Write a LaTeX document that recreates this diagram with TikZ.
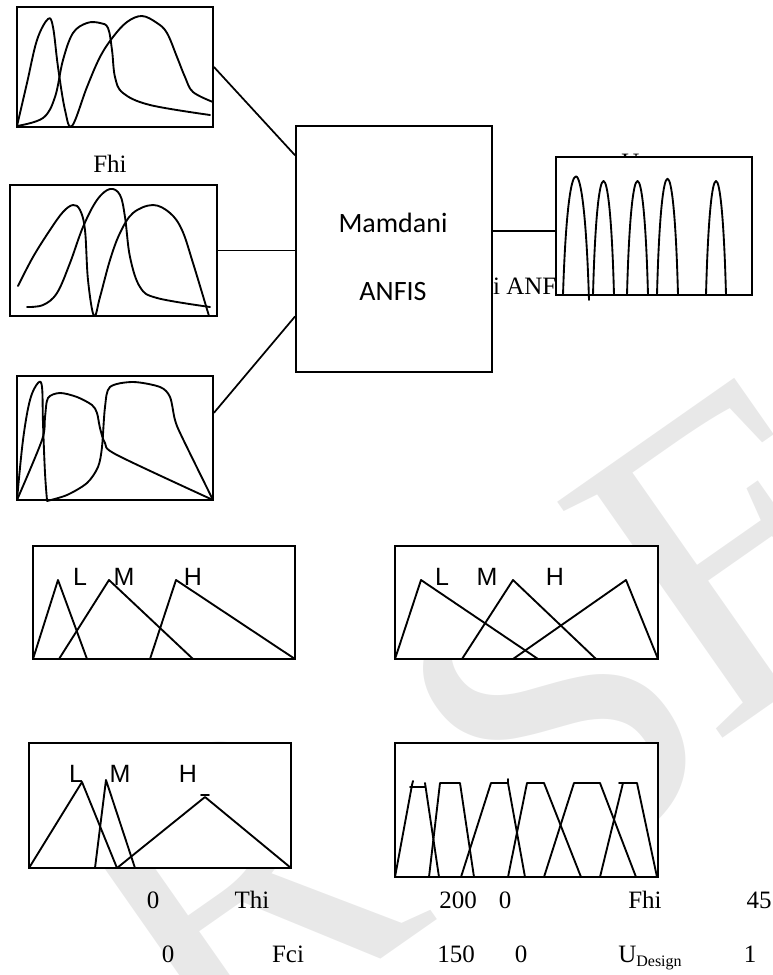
\documentclass[tikz,border=0pt]{standalone}
\usepackage{fontspec}
\setmainfont{Liberation Serif}
\newfontfamily\calibfont{Carlito}
\newfontfamily\arialfont{Liberation Sans}
\usetikzlibrary{calc,fit}

\tikzset{
  frame/.style={draw, line width=1.4pt, fill=white, inner sep=0pt},
  mf/.style={line width=1.4pt, line join=round, line cap=round},
  link/.style={line width=1.3pt},
  tlabel/.style={font=\fontsize{18.75pt}{20pt}\selectfont, inner sep=0pt, anchor=base},
  slabel/.style={font=\arialfont\fontsize{18.75pt}{20pt}\selectfont, inner sep=0pt, anchor=base},
  clabel/.style={font=\calibfont\fontsize{21pt}{24pt}\selectfont, inner sep=0pt, anchor=base},
  wm/.style={text=black!9, font=\fontsize{330pt}{330pt}\selectfont, inner sep=0pt, rotate=35},
}

\begin{document}
\begin{tikzpicture}[x=0.75pt,y=-0.75pt]
\useasboundingbox (0,0) rectangle (773,975);

% faint background lettering
\begin{scope}
  \clip (0,0) rectangle (773,975);
  \node[wm] (wmR) at (235,885) {R};
  \node[wm] (wmS) at (555,715) {S};
  \node[wm] (wmE) at (740,550) {E};
\end{scope}

% captions lying under the boxes
\node[tlabel, anchor=base west] (hidcap) at (404,294) {Mamdani ANFIS};
\node[tlabel, anchor=base west] (hidu) at (621,170) {U};

% frames
\node[frame, fit={(17,7) (213,127)}] (boxA) {};
\node[frame, fit={(10,185) (217,316)}] (boxB) {};
\node[frame, fit={(17,376) (213,500)}] (boxC) {};
\node[frame, fit={(296,126) (492,372)}] (mam) {};
\node[frame, fit={(556,157) (752,295)}] (outb) {};
\node[frame, fit={(33,546) (295,659)}] (thi) {};
\node[frame, fit={(395,546) (658,659)}] (fhi) {};
\node[frame, fit={(29,743) (291,868)}] (fci) {};
\node[frame, fit={(395,743) (658,877)}] (ud) {};

% block text
\node[clabel] (mam1) at (393,232) {Mamdani};
\node[clabel] (mam2) at (393,300) {ANFIS};
\node[tlabel] (fhicap) at (110,172) {Fhi};

% connectors
\coordinate (m1) at ($(mam.north west)!0.122!(mam.south west)$);
\coordinate (m3) at ($(mam.north west)!0.772!(mam.south west)$);
\coordinate (c1) at ($(boxC.north east)!0.3!(boxC.south east)$);
\coordinate (mo) at ($(mam.north east)!0.427!(mam.south east)$);
\draw[link] (boxA.east) -- (m1);
\draw[link] (boxB.east) -- (boxB.east -| mam.west);
\draw[link] (c1) -- (m3);
\draw[link] (mo) -- (mo -| outb.west);

% curves of the first input
\draw[mf] plot[smooth, tension=0.6] coordinates {(17,126) (27,83) (37,40) (48,19) (53,27) (58,67) (65,110) (72,126) (87,87) (100,57) (113,37) (127,22) (142,16) (157,23) (167,33) (177,57) (185,77) (193,92) (213,102)};
\draw[mf] plot[smooth, tension=0.6] coordinates {(17,126) (43,118) (55,97) (63,60) (73,33) (87,23) (100,23) (108,28) (112,50) (115,77) (123,93) (150,105) (210,115)};

% curves of the second input
\draw[mf] plot[smooth, tension=0.6] coordinates {(18,286) (33,257) (50,230) (63,212) (73,205) (80,210) (85,230) (88,280) (94,316) (100,297) (110,260) (120,233) (133,213) (153,205) (170,213) (182,230) (193,263) (209,316)};
\draw[mf] plot[smooth, tension=0.6] coordinates {(27,307) (43,305) (57,293) (70,263) (83,227) (97,200) (110,189) (120,195) (125,217) (130,257) (140,287) (157,298) (210,307)};

% curves of the third input
\draw[mf] plot[smooth, tension=0.6] coordinates {(17,500) (23,440) (30,400) (38,383) (42,387) (43,423) (45,473) (47,500)};
\draw[mf] plot[smooth, tension=0.5] coordinates {(17,500) (42,440) (45,417) (48,398) (60,393) (77,397) (92,405) (97,413) (100,428) (105,443) (117,455) (213,500)};
\draw[mf] plot[smooth, tension=0.5] coordinates {(47,501) (67,495) (87,483) (98,467) (102,447) (105,407) (110,387) (133,382) (160,387) (170,397) (175,420) (182,437) (213,500)};

% output humps
\draw[mf] (563,295) .. controls (568,136) and (584,136) .. (589,300);
\draw[mf] (593,295) .. controls (597,143) and (610,143) .. (614,295);
\draw[mf] (627,295) .. controls (631,143) and (644,143) .. (648,295);
\draw[mf] (657,295) .. controls (661,140) and (674,140) .. (678,295);
\draw[mf] (706,295) .. controls (710,143) and (722,143) .. (726,295);

% Thi sets
\draw[mf] (33,659) -- (58,580) -- (87,659);
\draw[mf] (59,659) -- (109,580) -- (193,659);
\draw[mf] (150,659) -- (176,580) -- (295,659);
\node[slabel] (thiL) at (80,585) {L};
\node[slabel] (thiM) at (124,585) {M};
\node[slabel] (thiH) at (193,585) {H};

% Fhi sets
\draw[mf] (395,659) -- (421,580) -- (538,659);
\draw[mf] (462,659) -- (513,580) -- (596,659);
\draw[mf] (513,659) -- (626,580) -- (658,659);
\node[slabel] (fhiL) at (442,585) {L};
\node[slabel] (fhiM) at (487,585) {M};
\node[slabel] (fhiH) at (555,585) {H};

% Fci sets
\draw[mf] (29,868) -- (82,782) -- (117,868);
\draw[mf] (95,868) -- (106,780) -- (135,868);
\draw[mf] (117,868) -- (205,797) -- (291,868);
\draw[mf] (201,795) -- (209,795);
\node[slabel] (fciL) at (76,782) {L};
\node[slabel] (fciM) at (120,782) {M};
\node[slabel] (fciH) at (188,782) {H};

% U_Design sets
\draw[mf] (395,877) -- (412,785) -- (413,781) (410,787) -- (425,787) (425,783) -- (439,877);
\draw[mf] (429,877) -- (440,783) -- (460,783) -- (474,877);
\draw[mf] (461,877) -- (491,783) -- (508,783) -- (525,877) (508,783) -- (508,779);
\draw[mf] (508,877) -- (527,783) -- (544,783) -- (581,877);
\draw[mf] (544,877) -- (574,783) -- (600,783) -- (636,877);
\draw[mf] (600,877) -- (623,783) (619,783) -- (637,783) -- (657,877);

% axis captions
\node[tlabel] (t0) at (153,908) {0};
\node[tlabel] (tn) at (252,908) {Thi};
\node[tlabel] (tm) at (458,908) {200};
\node[tlabel] (f0) at (505,908) {0};
\node[tlabel] (fn) at (645,908) {Fhi};
\node[tlabel] (fm) at (759,908) {45};
\node[tlabel] (c0) at (168,962) {0};
\node[tlabel] (cn) at (288,962) {Fci};
\node[tlabel] (cm) at (456,962) {150};
\node[tlabel] (u0) at (521,962) {0};
\node[tlabel] (un) at (650,962) {U\raisebox{-0.35ex}{\fontsize{12pt}{12pt}\selectfont Design}};
\node[tlabel] (um) at (750,962) {1};
\end{tikzpicture}
\end{document}
